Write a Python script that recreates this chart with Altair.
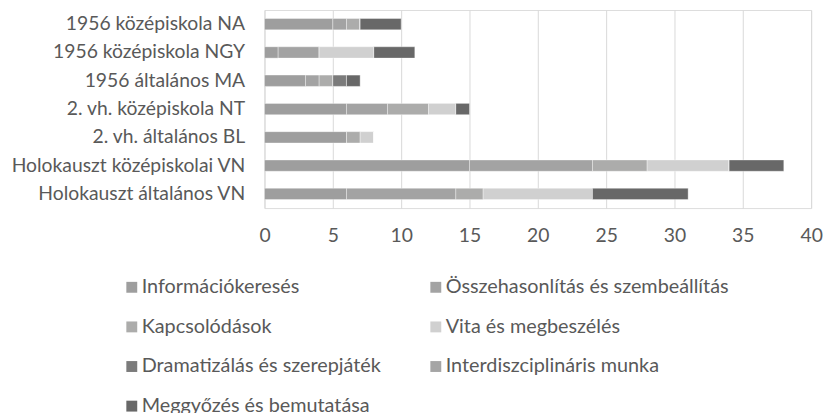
import altair as alt
import pandas as pd

categories = [
    "1956 középiskola NA",
    "1956 középiskola NGY",
    "1956 általános MA",
    "2. vh. középiskola NT",
    "2. vh. általános BL",
    "Holokauszt középiskolai VN",
    "Holokauszt általános VN",
]
series = [
    "Információkeresés",
    "Összehasonlítás és szembeállítás",
    "Kapcsolódások",
    "Vita és megbeszélés",
    "Dramatizálás és szerepjáték",
    "Interdiszciplináris munka",
    "Meggyőzés és bemutatása",
]
colors = ["#9e9e9e", "#a3a3a3", "#acacab", "#d0d0d0", "#7b7b7b", "#a5a5a5", "#686868"]

informaciokereses = [5, 1, 3, 6, 6, 15, 6]
osszehasonlitas = [1, 3, 1, 3, 0, 9, 8]
kapcsolodasok = [1, 0, 1, 3, 1, 4, 2]
vita = [0, 4, 0, 2, 1, 6, 8]
dramatizalas = [0, 0, 1, 0, 0, 0, 0]
interdiszciplinaris = [0, 0, 0, 0, 0, 0, 0]
meggyozes = [3, 3, 1, 1, 0, 4, 7]

x_ticks = [0, 5, 10, 15, 20, 25, 30, 35, 40]

values = [informaciokereses, osszehasonlitas, kapcsolodasok, vita,
          dramatizalas, interdiszciplinaris, meggyozes]
rows = []
for si, (s, vals) in enumerate(zip(series, values)):
    for c, v in zip(categories, vals):
        rows.append({"cat": c, "series": s, "order": si, "value": v})
df = pd.DataFrame(rows)

# legend fills column by column: reorder so it reads row by row
legend_order = [0, 2, 4, 6, 1, 3, 5]
dom = [series[i] for i in legend_order]
rng = [colors[i] for i in legend_order]

font = "Lato"
grey_text = "#595959"

chart = alt.Chart(df).mark_bar(stroke="#ffffff", strokeWidth=0.6, strokeOpacity=0.6).encode(
    x=alt.X("value:Q", stack="zero",
            scale=alt.Scale(domain=[0, 40], nice=False),
            axis=alt.Axis(values=x_ticks, title=None, grid=True, gridColor="#d9d9d9",
                          gridWidth=1, domain=False, ticks=False, tickSize=0,
                          labelFontSize=19.5, labelColor=grey_text, labelPadding=19,
                          labelFont=font, labelFlush=False)),
    y=alt.Y("cat:N", sort=categories,
            scale=alt.Scale(paddingInner=0.6, paddingOuter=0.3),
            axis=alt.Axis(title=None, domain=False, ticks=False, tickSize=0,
                          labelFontSize=19.5, labelColor=grey_text, labelPadding=20,
                          labelFont=font, labelLimit=400)),
    color=alt.Color("series:N",
                    scale=alt.Scale(domain=dom, range=rng),
                    legend=alt.Legend(orient="none", legendX=-144, legendY=270,
                                      columns=2, title=None, symbolType="square",
                                      symbolSize=121, symbolStrokeWidth=0,
                                      labelFontSize=20, labelColor=grey_text,
                                      labelFont=font, labelLimit=0,
                                      rowPadding=20, columnPadding=45,
                                      labelOffset=0, padding=0)),
    order=alt.Order("order:Q"),
).properties(
    width=552, height=200,
    autosize=alt.AutoSizeParams(type="none"),
    padding={"left": 259, "top": 0, "right": 13, "bottom": 215},
).configure_view(stroke=None).configure(font=font)

chart.save("out.html", embed_options={"renderer": "svg", "actions": False})
